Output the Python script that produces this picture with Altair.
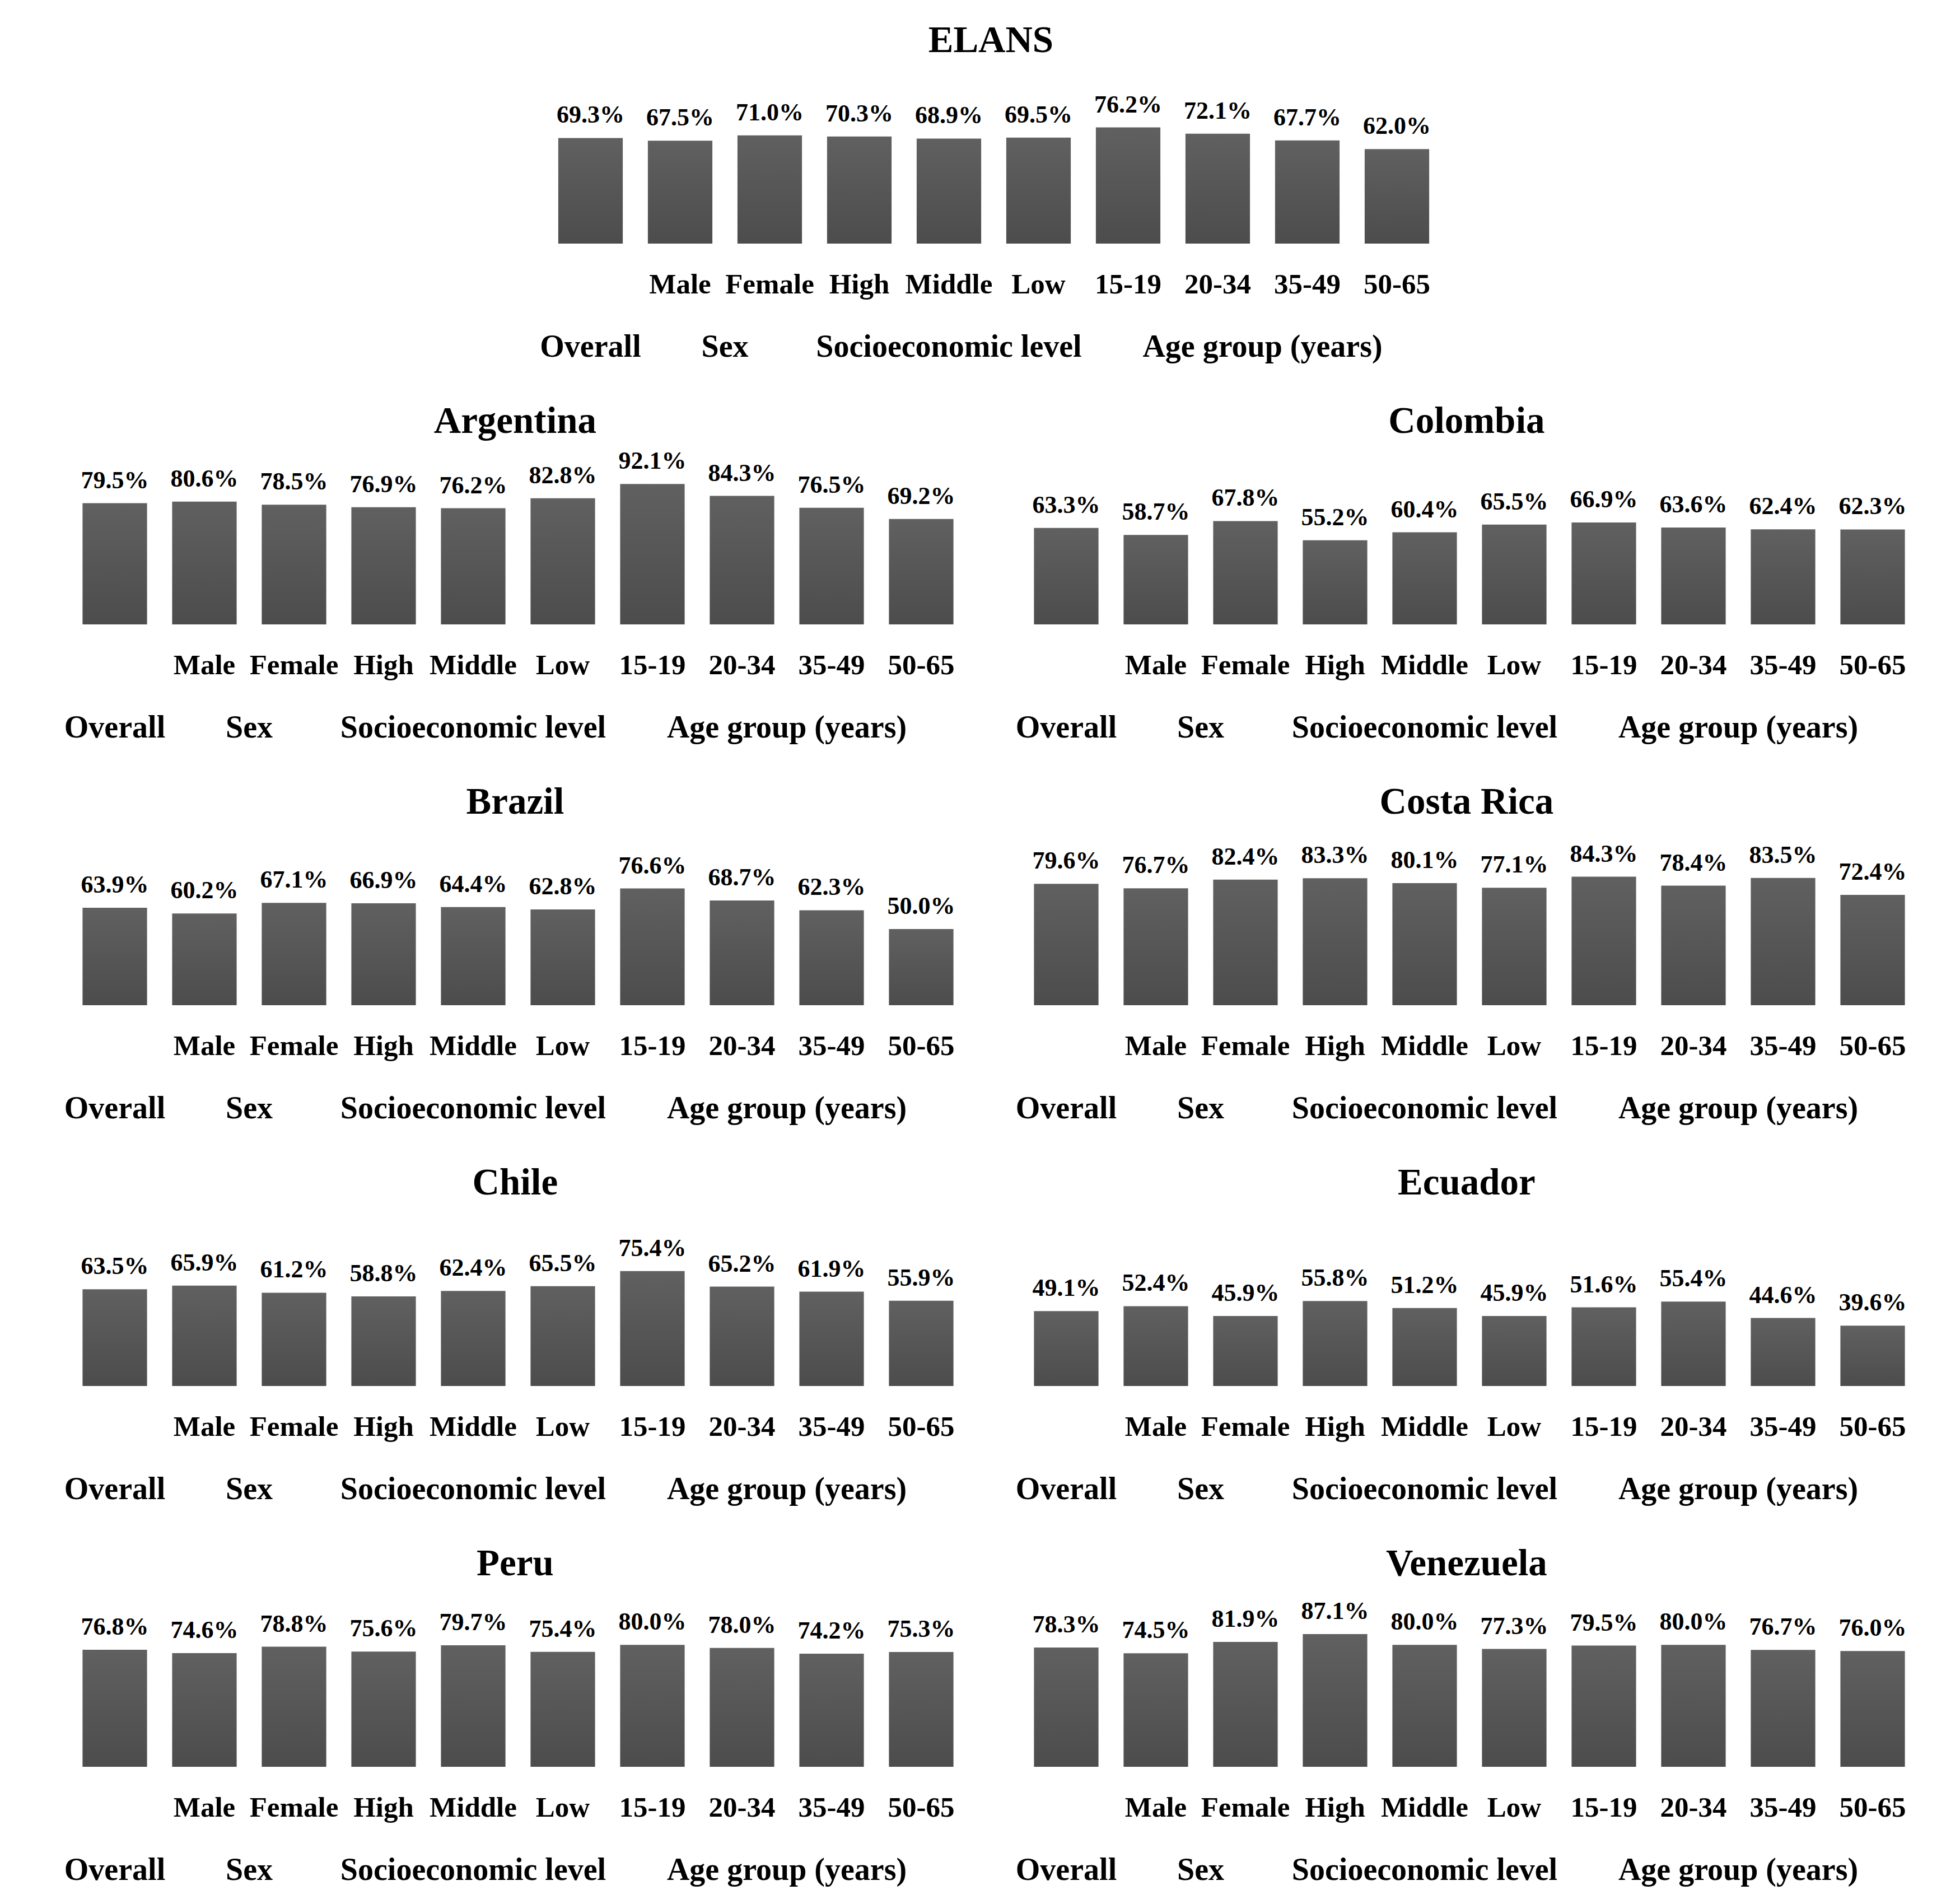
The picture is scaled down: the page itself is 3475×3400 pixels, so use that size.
import altair as alt
import pandas as pd

FONT = "Liberation Serif"

categories = ["Overall", "Male", "Female", "High", "Middle", "Low",
              "15-19", "20-34", "35-49", "50-65"]
groups = ["Overall", "Sex", "Sex",
          "Socioeconomic level", "Socioeconomic level", "Socioeconomic level",
          "Age group (years)", "Age group (years)", "Age group (years)", "Age group (years)"]
group_order = ["Overall", "Sex", "Socioeconomic level", "Age group (years)"]

elans = [69.3, 67.5, 71.0, 70.3, 68.9, 69.5, 76.2, 72.1, 67.7, 62.0]
argentina = [79.5, 80.6, 78.5, 76.9, 76.2, 82.8, 92.1, 84.3, 76.5, 69.2]
colombia = [63.3, 58.7, 67.8, 55.2, 60.4, 65.5, 66.9, 63.6, 62.4, 62.3]
brazil = [63.9, 60.2, 67.1, 66.9, 64.4, 62.8, 76.6, 68.7, 62.3, 50.0]
costa_rica = [79.6, 76.7, 82.4, 83.3, 80.1, 77.1, 84.3, 78.4, 83.5, 72.4]
chile = [63.5, 65.9, 61.2, 58.8, 62.4, 65.5, 75.4, 65.2, 61.9, 55.9]
ecuador = [49.1, 52.4, 45.9, 55.8, 51.2, 45.9, 51.6, 55.4, 44.6, 39.6]
peru = [76.8, 74.6, 78.8, 75.6, 79.7, 75.4, 80.0, 78.0, 74.2, 75.3]
venezuela = [78.3, 74.5, 81.9, 87.1, 80.0, 77.3, 79.5, 80.0, 76.7, 76.0]

gradient = alt.LinearGradient(
    gradient="linear",
    stops=[alt.GradientStop(color="#606060", offset=0),
           alt.GradientStop(color="#4c4c4c", offset=1)],
    x1=0, x2=0, y1=0, y2=1,
)


def panel(name, values):
    df = pd.DataFrame({
        "cat": categories,
        "group": groups,
        "value": values,
        "label": [f"{v:.1f}%" for v in values],
    })
    base = alt.Chart().encode(
        x=alt.X(
            "cat:N", sort=categories, title=None,
            scale=alt.Scale(paddingInner=0.28, paddingOuter=0.14),
            axis=alt.Axis(
                labelAngle=0, domain=False, ticks=False, grid=False,
                labelFont=FONT, labelFontSize=51, labelFontWeight="bold",
                labelColor="black", labelPadding=88, labelBaseline="alphabetic",
                labelExpr="datum.value == 'Overall' ? '' : datum.label",
            ),
        ),
        y=alt.Y("value:Q", scale=alt.Scale(domain=[0, 115]), axis=None),
    )
    bars = base.mark_bar(color=gradient)
    text = base.mark_text(
        font=FONT, fontSize=44, fontWeight="bold", color="black",
        baseline="alphabetic", dy=-27,
    ).encode(text="label:N")
    chart = alt.layer(bars, text, data=df).properties(
        width=alt.Step(160), height=313
    ).facet(
        column=alt.Column(
            "group:N", sort=group_order,
            header=alt.Header(
                title=None, labelOrient="bottom", labelFont=FONT,
                labelFontSize=56, labelFontWeight="bold", labelColor="black",
                labelPadding=104, labelBaseline="alphabetic",
            ),
        ),
        spacing=0,
        title=alt.TitleParams(
            name, font=FONT, fontSize=67, fontWeight="bold", color="black",
            anchor="middle", baseline="alphabetic", offset=-38,
        ),
    ).resolve_scale(x="independent")
    return chart


rows = [
    panel("ELANS", elans),
    alt.hconcat(panel("Argentina", argentina), panel("Colombia", colombia), spacing=88),
    alt.hconcat(panel("Brazil", brazil), panel("Costa Rica", costa_rica), spacing=88),
    alt.hconcat(panel("Chile", chile), panel("Ecuador", ecuador), spacing=88),
    alt.hconcat(panel("Peru", peru), panel("Venezuela", venezuela), spacing=88),
]

chart = alt.vconcat(*rows, spacing=71, center=True).properties(
    padding={"left": 106, "top": 31, "right": 10, "bottom": 10},
    background="white",
).configure_view(strokeWidth=0)

chart.save("out.html", embed_options={"renderer": "svg", "actions": False})
